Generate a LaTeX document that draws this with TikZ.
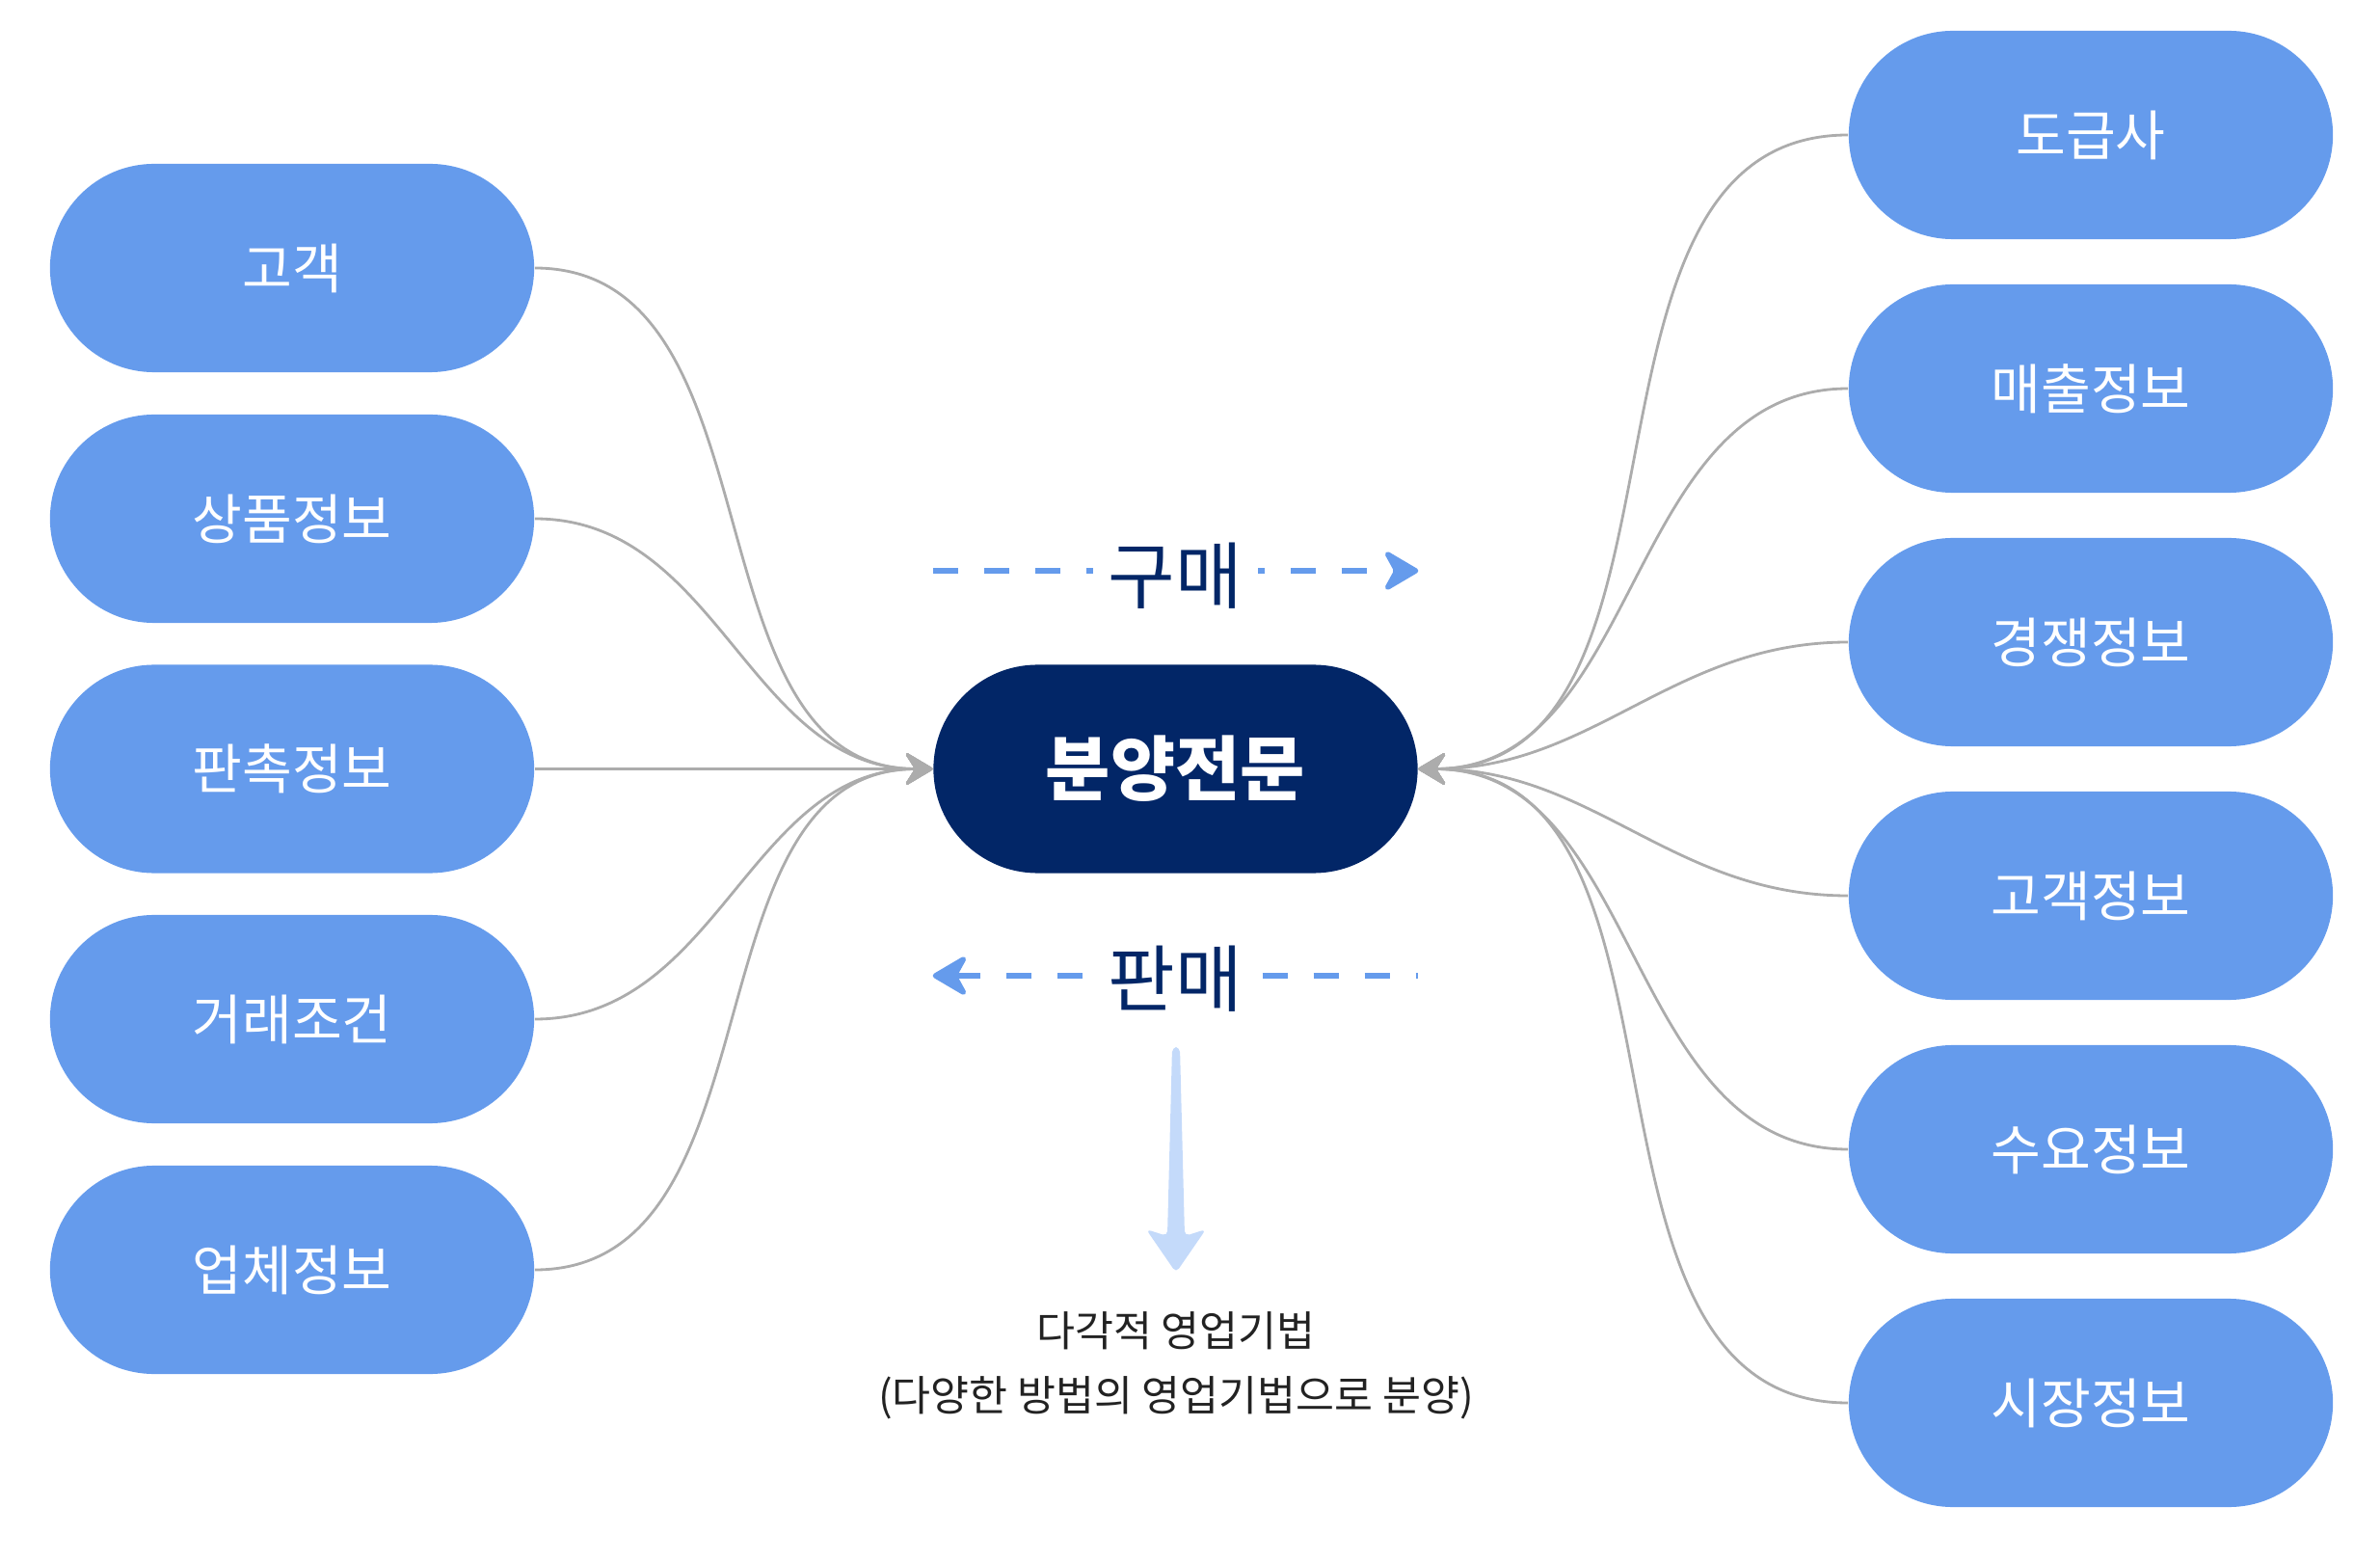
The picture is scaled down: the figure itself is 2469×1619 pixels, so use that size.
\documentclass[tikz,border=0pt]{standalone}
\usepackage{fontspec}
\setmainfont{Noto Sans CJK KR}
\usetikzlibrary{arrows.meta,backgrounds,calc}
\definecolor{boxblue}{RGB}{101,155,236}
\definecolor{navy}{RGB}{2,38,103}
\definecolor{conngray}{RGB}{172,172,172}
\definecolor{lightarrow}{RGB}{196,218,250}
\definecolor{textdark}{RGB}{34,34,34}
\tikzset{
  x=0.01cm, y=-0.01cm,
  pill/.style={rectangle, rounded corners=1.08cm, fill=boxblue, text=white,
    minimum width=5.02cm, minimum height=2.16cm, inner sep=0pt,
    font=\fontsize{16pt}{19pt}\selectfont},
  hub/.style={rectangle, rounded corners=1.08cm, fill=navy, text=white,
    minimum width=5.02cm, minimum height=2.16cm, inner sep=0pt,
    font=\fontsize{20.8pt}{25pt}\selectfont\bfseries},
  conn/.style={draw=conngray, line width=0.8pt,
    -{Stealth[length=3.2mm,width=3.8mm,inset=1.2mm,round]}},
  flowlabel/.style={fill=white, text=navy, inner xsep=0.16cm, inner ysep=0pt,
    font=\fontsize{21.5pt}{25pt}\selectfont},
  flowline/.style={draw=boxblue, line width=1.5pt, dash pattern=on 0.26cm off 0.27cm},
  flowtip/.tip={Stealth[length=4.1mm,width=4.8mm,inset=1.3mm,round]},
  note/.style={text=textdark, align=center,
    font=\fontsize{12.35pt}{19pt}\selectfont}
}
\begin{document}
\begin{tikzpicture}
\useasboundingbox (0,0) rectangle (2469,1619);

% hub
\node[hub] (C) at (1219.5,797.5) {분양전문};

% left boxes
\node[pill] (L1) at (303,278) {고객};
\node[pill] (L2) at (303,538) {상품정보};
\node[pill] (L3) at (303,797.5) {판촉정보};
\node[pill] (L4) at (303,1057) {거래조건};
\node[pill] (L5) at (303,1317) {업체정보};

% right boxes
\node[pill] (R1) at (2169,140) {도급사};
\node[pill] (R2) at (2169,403) {매출정보};
\node[pill] (R3) at (2169,666) {경쟁정보};
\node[pill] (R4) at (2169,929) {고객정보};
\node[pill] (R5) at (2169,1192) {수요정보};
\node[pill] (R6) at (2169,1455) {시장정보};

% connectors
\foreach \n in {L1,L2,L3,L4,L5}{
  \draw[conn] (\n.east) to[out=0,in=180] (C.west);
}
\foreach \n in {R1,R2,R3,R4,R5,R6}{
  \draw[conn] (\n.west) to[out=180,in=0] (C.east);
}

% buy / sell labels
\node[flowlabel] (buy) at (1219.5,597) {구매};
\node[flowlabel] (sell) at (1219.5,1015) {판매};

\begin{scope}[on background layer]
  \draw[flowline, -{flowtip}] (C.west |- 0,592) -- (C.east |- 0,592);
  \draw[flowline, {flowtip}-] (C.west |- 0,1012) -- (C.east |- 0,1012);
\end{scope}

% down arrow
\coordinate (dtop) at (1220,1086);
\coordinate (dtip) at (1220,1320);
\fill[lightarrow, rounded corners=1.5pt]
  ($(dtop)+(-4,0)$) -- ($(dtop)+(4,0)$) -- (1229,1282) -- (1251,1275)
  -- (dtip) -- (1189,1275) -- (1211,1282) -- cycle;

% note
\node[note] (N) at (1220,1416) {다각적 영업기법\\(다양한 방법의 영업기법으로 분양)};
\end{tikzpicture}
\end{document}
